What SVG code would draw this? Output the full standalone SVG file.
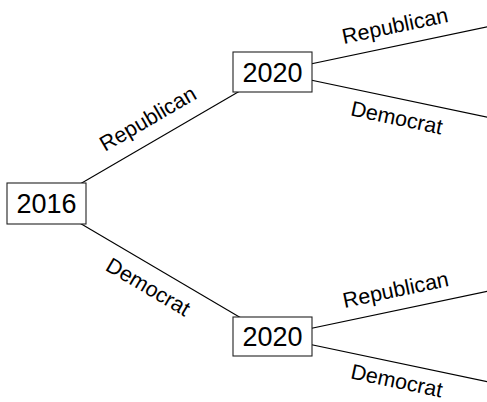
<svg xmlns="http://www.w3.org/2000/svg" width="487" height="402" viewBox="0 0 487 402">
<style>
.edge{stroke:#000;stroke-width:1.1;fill:none}
.box{fill:#fff;stroke:#222;stroke-width:1.1}
.year{font-family:"Liberation Sans",Arial,sans-serif;font-size:27px;fill:#000;text-anchor:middle;dominant-baseline:central}
.lbl{font-family:"Liberation Sans",Arial,sans-serif;font-size:21.5px;fill:#000;text-anchor:middle;dominant-baseline:central}
</style>
<rect width="487" height="402" fill="#fff"/>
<g id="connectors">
<line class="edge" x1="46.5" y1="203.5" x2="272.5" y2="72"/>
<line class="edge" x1="46.5" y1="203.5" x2="272.5" y2="336.5"/>
<line class="edge" x1="272.5" y1="72" x2="500" y2="24.2"/>
<line class="edge" x1="272.5" y1="72" x2="500" y2="119.8"/>
<line class="edge" x1="272.5" y1="336.5" x2="500" y2="288.7"/>
<line class="edge" x1="272.5" y1="336.5" x2="500" y2="384.3"/>
<text class="lbl" transform="translate(148,119) rotate(-30.2)">Republican</text>
<text class="lbl" transform="translate(148,287) rotate(30.5)">Democrat</text>
<text class="lbl" transform="translate(395,26) rotate(-11.9)">Republican</text>
<text class="lbl" transform="translate(396.7,118) rotate(11.9)">Democrat</text>
<text class="lbl" transform="translate(395.7,290) rotate(-11.9)">Republican</text>
<text class="lbl" transform="translate(396.7,381) rotate(11.9)">Democrat</text>
</g>
<g id="n2016">
<rect class="box" x="7" y="183" width="79" height="41"/>
<text class="year" x="46.5" y="204">2016</text>
</g>
<g id="n2020a">
<rect class="box" x="233" y="52" width="79" height="40"/>
<text class="year" x="272.5" y="72.5">2020</text>
</g>
<g id="n2020b">
<rect class="box" x="233" y="317" width="79" height="39"/>
<text class="year" x="272.5" y="337">2020</text>
</g>
</svg>
